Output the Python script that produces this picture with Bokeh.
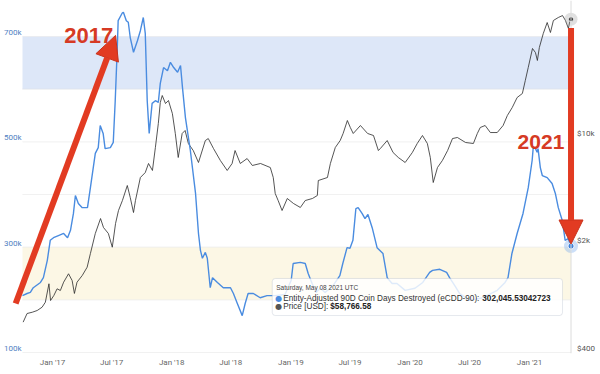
import pandas as pd
from bokeh.plotting import figure
from bokeh.models import (Range1d, LogScale, FixedTicker, DatetimeTickFormatter,
                          BoxAnnotation, Arrow, NormalHead, Label, Span)
from bokeh.embed import file_html
from bokeh.resources import INLINE

# ---------------- data ----------------
ecdd_dates = [
    "2016-10-01", "2016-10-15", "2016-10-25", "2016-11-03", "2016-11-25", "2016-12-04", "2016-12-16",
    "2016-12-25", "2017-01-04", "2017-01-19", "2017-02-04", "2017-02-16", "2017-02-25", "2017-03-06",
    "2017-03-12", "2017-03-21", "2017-04-02", "2017-04-18", "2017-04-27", "2017-05-12", "2017-05-21",
    "2017-05-27", "2017-06-05", "2017-06-11", "2017-06-27", "2017-07-06", "2017-07-12", "2017-07-18",
    "2017-07-21", "2017-08-03", "2017-08-06", "2017-08-15", "2017-08-21", "2017-08-27", "2017-09-06",
    "2017-09-18", "2017-09-27", "2017-10-06", "2017-10-12", "2017-10-18", "2017-10-24", "2017-11-02",
    "2017-11-12", "2017-11-21", "2017-11-27", "2017-12-07", "2017-12-19", "2017-12-28", "2018-01-07",
    "2018-01-19", "2018-01-28", "2018-02-03", "2018-02-12", "2018-02-27", "2018-03-15", "2018-03-24",
    "2018-03-30", "2018-04-05", "2018-04-14", "2018-04-20", "2018-04-29", "2018-05-06", "2018-05-21",
    "2018-06-08", "2018-06-30", "2018-07-09", "2018-07-21", "2018-08-05", "2018-08-14", "2018-08-23",
    "2018-09-08", "2018-09-29", "2018-10-20", "2018-11-14", "2018-12-14", "2019-01-02", "2019-01-08",
    "2019-01-30", "2019-02-14", "2019-02-23", "2019-03-07", "2019-03-19", "2019-04-01", "2019-04-16",
    "2019-05-10", "2019-05-31", "2019-06-09", "2019-06-22", "2019-07-01", "2019-07-10", "2019-07-19",
    "2019-07-26", "2019-08-07", "2019-08-16", "2019-08-25", "2019-09-07", "2019-09-22", "2019-10-10",
    "2019-10-23", "2019-11-07", "2019-11-22", "2019-12-17", "2020-01-16", "2020-02-09", "2020-03-01",
    "2020-03-10", "2020-04-01", "2020-04-22", "2020-05-01", "2020-05-17", "2020-06-01", "2020-07-02",
    "2020-08-11", "2020-09-24", "2020-10-18", "2020-10-27", "2020-11-08", "2020-11-24", "2020-12-12",
    "2020-12-28", "2021-01-09", "2021-01-12", "2021-01-18", "2021-01-24", "2021-01-27", "2021-02-03",
    "2021-02-09", "2021-02-24", "2021-03-11", "2021-03-21", "2021-03-30", "2021-04-11", "2021-04-17",
    "2021-04-20", "2021-04-29", "2021-05-05", "2021-05-08",
]
ecdd_k = [
    208, 212, 214, 223, 233, 242, 275,
    313, 318, 322, 326, 318, 332, 364,
    398, 383, 375, 375, 413, 478, 489,
    531, 516, 487, 489, 499, 578, 673,
    730, 745, 746, 730, 727, 698, 670,
    692, 711, 736, 706, 578, 516, 573,
    578, 575, 611, 641, 635, 651, 641,
    632, 645, 603, 546, 484, 402, 326,
    294, 279, 290, 279, 223, 242, 233,
    223, 223, 212, 193, 170, 193, 212,
    212, 204, 208, 208, 210, 237, 269,
    271, 269, 250, 231, 214, 222, 214,
    227, 246, 269, 299, 298, 313, 373,
    375, 364, 354, 362, 337, 299, 288,
    242, 231, 231, 218, 222, 233, 252,
    256, 258, 252, 242, 227, 212, 199,
    204, 218, 233, 242, 288, 326, 364,
    413, 465, 487, 489, 480, 487, 451,
    436, 432, 421, 402, 375, 351, 326,
    313, 316, 307, 302.04553042723,
]

price_dates = [
    "2016-10-03", "2016-10-15", "2016-10-31", "2016-11-15", "2016-11-30", "2016-12-10", "2016-12-21",
    "2016-12-26", "2017-01-05", "2017-01-15", "2017-01-25", "2017-02-04", "2017-02-19", "2017-03-02",
    "2017-03-09", "2017-03-17", "2017-04-02", "2017-04-17", "2017-04-27", "2017-05-12", "2017-05-28",
    "2017-06-06", "2017-06-21", "2017-07-03", "2017-07-13", "2017-07-22", "2017-08-03", "2017-08-18",
    "2017-08-27", "2017-09-06", "2017-09-12", "2017-09-27", "2017-10-12", "2017-10-22", "2017-11-03",
    "2017-11-12", "2017-11-21", "2017-11-27", "2017-12-03", "2017-12-13", "2017-12-22", "2018-01-03",
    "2018-01-12", "2018-01-21", "2018-02-02", "2018-02-11", "2018-02-21", "2018-03-08", "2018-03-24",
    "2018-04-14", "2018-04-23", "2018-05-09", "2018-05-30", "2018-06-20", "2018-07-05", "2018-07-14",
    "2018-07-30", "2018-08-20", "2018-09-05", "2018-09-30", "2018-10-30", "2018-11-08", "2018-11-14",
    "2018-11-23", "2018-12-05", "2018-12-21", "2019-01-09", "2019-01-30", "2019-02-14", "2019-03-08",
    "2019-03-23", "2019-03-26", "2019-04-23", "2019-05-02", "2019-05-17", "2019-06-01", "2019-06-10",
    "2019-06-23", "2019-07-02", "2019-07-11", "2019-08-02", "2019-08-24", "2019-09-11", "2019-09-26",
    "2019-10-02", "2019-10-23", "2019-11-10", "2019-11-26", "2019-12-17", "2020-01-08", "2020-01-23",
    "2020-02-08", "2020-02-23", "2020-03-03", "2020-03-12", "2020-03-25", "2020-04-09", "2020-04-25",
    "2020-05-10", "2020-05-25", "2020-06-19", "2020-07-13", "2020-07-25", "2020-08-03", "2020-08-18",
    "2020-09-03", "2020-09-24", "2020-10-12", "2020-10-25", "2020-11-09", "2020-11-24", "2020-12-10",
    "2020-12-19", "2020-12-28", "2021-01-10", "2021-01-19", "2021-01-25", "2021-01-31", "2021-02-12",
    "2021-02-24", "2021-03-06", "2021-03-15", "2021-03-30", "2021-04-12", "2021-04-21", "2021-04-30",
    "2021-05-06", "2021-05-08",
]
price_usd = [
    630, 717, 731, 750, 788, 849, 1119,
    871, 939, 1038, 1012, 1146, 1300, 1175,
    968, 1146, 1267, 1434, 1761, 2376, 2972,
    2599, 2376, 1935, 2760, 3352, 3892, 4873,
    4072, 3252, 3892, 5493, 5916, 6776, 6104,
    8609, 12333, 16888, 18751, 16636, 17400, 14323,
    10618, 7413, 10618, 11105, 9141, 8227, 6879,
    9556, 9844, 8476, 7087, 6104, 6776, 8227,
    6776, 7296, 6577, 6776, 6380, 5493, 4325,
    3892, 3352, 4012, 3723, 3507, 3892, 4012,
    4196, 5252, 5493, 6776, 8609, 9556, 10618,
    12896, 11616, 10618, 11968, 10618, 10303, 8227,
    8476, 9556, 7987, 7413, 6879, 7987, 9141,
    10303, 9141, 7413, 5097, 6380, 7087, 8227,
    9844, 10000, 9280, 9141, 10618, 11616, 11968,
    10771, 10771, 11968, 13900, 15668, 18200, 19320,
    23480, 28520, 37900, 35680, 31680, 38480, 47440,
    55920, 48160, 57640, 60280, 62080, 57640, 51160,
    59400, 58766.58,
]

x_tick_dates = ["2017-01-01", "2017-07-01", "2018-01-01", "2018-07-01", "2019-01-01",
                "2019-07-01", "2020-01-01", "2020-07-01", "2021-01-01"]
left_ticks_k = [100, 300, 500, 700]
left_tick_labels = ["100k", "300k", "500k", "700k"]
grid_ticks_k = [100, 200, 300, 400, 500, 600, 700]
right_ticks = [400, 2000, 10000]
right_tick_labels = ["$400", "$2k", "$10k"]
band_blue_k = (600, 700)
band_beige_k = (200, 300)

tooltip_date = "Saturday, May 08 2021 UTC"
tooltip_series = "Entity-Adjusted 90D Coin Days Destroyed (eCDD-90): "
tooltip_series_value = "302,045.53042723"
tooltip_price = "Price [USD]: "
tooltip_price_value = "$58,766.58"

# ---------------- figure ----------------
K = 1000
ed = pd.to_datetime(ecdd_dates)
pdt = pd.to_datetime(price_dates)
ecdd_vals = [v * K for v in ecdd_k]


def T(s):
    return pd.Timestamp(s).to_pydatetime()


first_day = T(ecdd_dates[0])
last_day = T(ecdd_dates[-1])

p = figure(width=600, height=374, x_axis_type="datetime", y_axis_location=None,
           output_backend="svg", toolbar_location=None,
           x_range=Range1d(T("2016-07-25 15:00"), T("2021-08-06 07:00")),
           y_range=Range1d(98.1 * K, 768.3 * K),
           min_border_left=0, min_border_right=0, min_border_top=0, min_border_bottom=21)
p.outline_line_color = None
p.background_fill_color = "white"
p.border_fill_color = "white"
p.extra_y_ranges = {"price": Range1d(394, 77770)}
p.extra_y_scales = {"price": LogScale()}

FONT = "Roboto"

# bands
p.add_layout(BoxAnnotation(bottom=band_blue_k[0] * K, top=band_blue_k[1] * K, left=first_day, right=last_day,
                           fill_color="#dde7f8", fill_alpha=1.0, line_color=None, level="underlay"))
p.add_layout(BoxAnnotation(bottom=band_beige_k[0] * K, top=band_beige_k[1] * K, left=first_day, right=last_day,
                           fill_color="#fcf7e5", fill_alpha=1.0, line_color=None, level="underlay"))

# horizontal grid lines, limited to the data span
p.xgrid.grid_line_color = None
p.ygrid.grid_line_color = None
for v in grid_ticks_k:
    p.add_layout(BoxAnnotation(bottom=v * K, top=v * K, left=first_day, right=last_day,
                               fill_alpha=0, line_color="#e6e6e6", line_width=1, level="underlay"))

# price axis line at the right end of data
p.add_layout(Span(location=last_day, dimension="height", line_color="#dcdcdc", line_width=1))

# left value labels (eCDD-90)
for v, s in zip(left_ticks_k, left_tick_labels):
    p.add_layout(Label(x=first_day, y=v * K, x_offset=-1, y_offset=4, text=s, text_align="right",
                       text_baseline="middle", text_font=FONT, text_font_size="8px",
                       text_color="#4f7fc2"))
# right price labels (log scale)
for v, s in zip(right_ticks, right_tick_labels):
    p.add_layout(Label(x=last_day, y=v, y_range_name="price", x_offset=6, y_offset=4, text=s,
                       text_align="left", text_baseline="middle", text_font=FONT,
                       text_font_size="8px", text_color="#555555"))

# x axis
xa = p.xaxis[0]
xa.ticker = FixedTicker(ticks=[pd.Timestamp(d).value / 1e6 for d in x_tick_dates])
xa.formatter = DatetimeTickFormatter(months="%b '%y", years="%b '%y", days="%b '%y")
xa.axis_line_color = None
xa.major_tick_line_color = None
xa.minor_tick_line_color = None
xa.major_tick_out = 0
xa.major_tick_in = 0
xa.minor_tick_out = 0
xa.major_label_text_color = "#666666"
xa.major_label_text_font = FONT
xa.major_label_text_font_size = "8px"
xa.major_label_standoff = 4

# series
p.line(pdt, price_usd, y_range_name="price", line_color="#2a2a2a", line_width=0.8)
p.line(ed, ecdd_vals, line_color="#4a8ce0", line_width=1.4)

# hover markers at last point
p.scatter([pdt[-1]], [price_usd[-1]], y_range_name="price", size=13, fill_color="#999999",
          fill_alpha=0.3, line_color=None)
p.scatter([pdt[-1]], [price_usd[-1]], y_range_name="price", size=5, fill_color="#333333",
          line_color="white", line_width=0.8)
p.scatter([ed[-1]], [ecdd_vals[-1]], size=14, fill_color="#7fb0ee", fill_alpha=0.4, line_color=None)
p.scatter([ed[-1]], [ecdd_vals[-1]], size=6, fill_color="#3d80da", line_color="white", line_width=0.8)

# red arrows
RED = "#e23b22"
p.add_layout(Arrow(end=NormalHead(size=24, fill_color=RED, line_color="#c9321c", line_width=1),
                   x_start=T("2016-09-10"), y_start=193 * K, x_end=T("2017-07-13"), y_end=702 * K,
                   line_color=RED, line_width=6))
p.add_layout(Arrow(end=NormalHead(size=24, fill_color=RED, line_color="#c9321c", line_width=1),
                   x_start=last_day, y_start=716 * K, x_end=last_day, y_end=306 * K,
                   line_color=RED, line_width=6))

# red year labels
for txt, xd, yv, fs in [("2017", "2017-04-22", 702, "22px"), ("2021", "2021-02-05", 500, "21px")]:
    p.add_layout(Label(x=T(xd), y=yv * K, text=txt, text_align="center", text_baseline="alphabetic",
                       text_font="Liberation Sans", text_font_style="bold", text_font_size=fs,
                       text_color="#d63a24"))

# tooltip box
tip_left = T("2018-11-05")
p.add_layout(BoxAnnotation(left=tip_left, right=T("2021-04-12"), top=240.5 * K, bottom=170.2 * K,
                           fill_color="white", fill_alpha=0.82, line_color="#a9b4c4", line_width=1,
                           border_radius=3, level="overlay"))
common = dict(x=tip_left, text_baseline="middle", text_font="Liberation Sans", level="overlay")
p.add_layout(Label(y=223.4 * K, x_offset=4, text=tooltip_date, text_font_size="6.5px",
                   text_color="#444444", **common))
p.add_layout(Label(y=203.1 * K, x_offset=3, text="\u25CF", text_font_size="8px",
                   text_color="#4a8ce0", x=tip_left, text_baseline="middle",
                   text_font="DejaVu Sans", level="overlay"))
p.add_layout(Label(y=203.1 * K, x_offset=11, text=tooltip_series, text_font_size="8.2px",
                   text_color="#333333", **common))
p.add_layout(Label(y=203.1 * K, x_offset=210, text=tooltip_series_value, text_font_size="8.2px",
                   text_font_style="bold", text_color="#222222", **common))
p.add_layout(Label(y=187.9 * K, x_offset=3, text="\u25CF", text_font_size="8px",
                   text_color="#555555", x=tip_left, text_baseline="middle",
                   text_font="DejaVu Sans", level="overlay"))
p.add_layout(Label(y=187.9 * K, x_offset=11, text=tooltip_price, text_font_size="8.2px",
                   text_color="#333333", **common))
p.add_layout(Label(y=187.9 * K, x_offset=58, text=tooltip_price_value, text_font_size="8.2px",
                   text_font_style="bold", text_color="#222222", **common))

open("out.html", "w").write(file_html(p, INLINE))
